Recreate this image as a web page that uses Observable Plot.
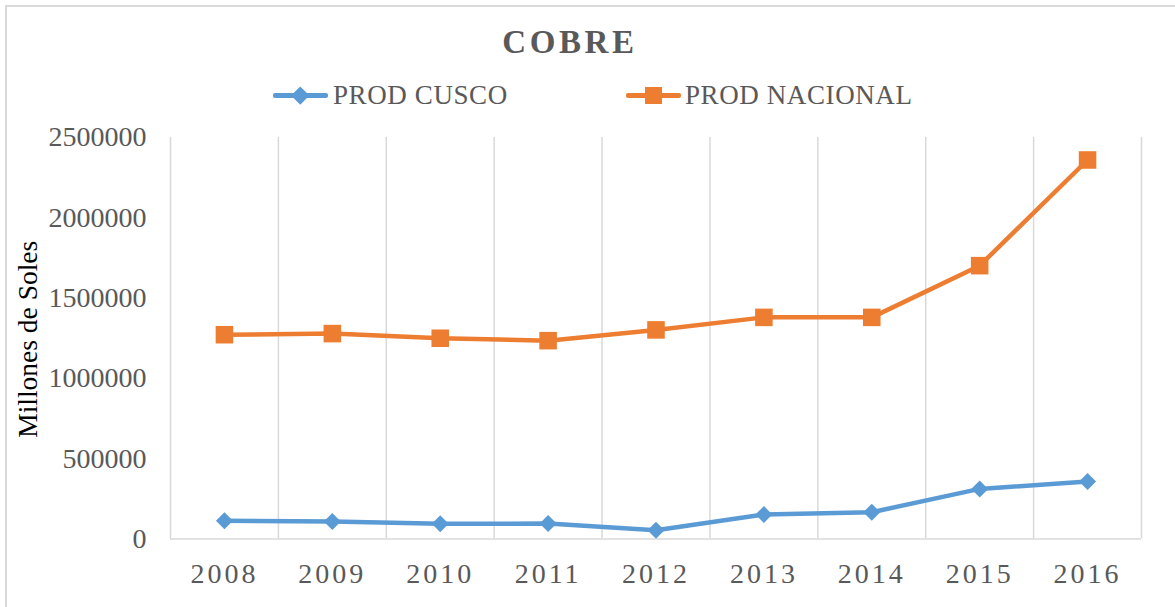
<!DOCTYPE html>
<html>
<head>
<meta charset="utf-8">
<script src="https://cdn.jsdelivr.net/npm/d3@7"></script>
<script src="https://cdn.jsdelivr.net/npm/@observablehq/plot@0.6"></script>
<style>
  body { margin: 0; background: #fff; }
  #wrap { position: relative; width: 1175px; height: 607px; overflow: hidden; background: #fff;
          font-family: "Liberation Serif", "Times New Roman", serif; }
  #frame { position: absolute; left: 5px; top: 5px; width: 1300px; height: 800px;
           border-left: 2px solid #d9d9d9; border-top: 2px solid #d9d9d9; box-sizing: border-box; }
  #chart { position: absolute; left: 0; top: 0; }
  #title { position: absolute; left: 0; top: 26px; width: 1140px; text-align: center;
           font-size: 33px; line-height: 33px; font-weight: bold; letter-spacing: 3.6px; color: #595959; }
  .lg-line { position: absolute; height: 4.5px; }
  .lg-mark { position: absolute; }
  .lg-text { position: absolute; font-size: 27px; line-height: 27px; letter-spacing: 0.6px; color: #595959; white-space: nowrap; }
  svg g[aria-label="x-axis tick label"] text { letter-spacing: 3px; }
</style>
</head>
<body>
<div id="wrap">
  <div id="frame"></div>
  <div id="chart"></div>
  <div id="title"></div>
  <div id="legend"></div>
</div>
<script>
const titleText = "COBRE";
const yAxisTitle = "Millones de Soles";
const seriesNames = ["PROD CUSCO", "PROD NACIONAL"];
const seriesColors = ["#5b9bd5", "#ed7d31"];
const years = [2008, 2009, 2010, 2011, 2012, 2013, 2014, 2015, 2016];
const cuscoValues = [113000, 109000, 95000, 96000, 55000, 152000, 167000, 312000, 358000];
const nacionalValues = [1272000, 1279000, 1250000, 1235000, 1302000, 1380000, 1380000, 1702000, 2360000];
const yTicks = [0, 500000, 1000000, 1500000, 2000000, 2500000];

const cusco = years.map((year, i) => ({year, value: cuscoValues[i]}));
const nacional = years.map((year, i) => ({year, value: nacionalValues[i]}));
const gridX = years.map(y => y - 0.5).concat([years[years.length - 1] + 0.5]);

document.getElementById("title").textContent = titleText;

// Legend (HTML)
const legend = document.getElementById("legend");
const legendItems = [
  {name: seriesNames[0], color: seriesColors[0], lineLeft: 273, textLeft: 333, shape: "diamond"},
  {name: seriesNames[1], color: seriesColors[1], lineLeft: 626, textLeft: 685, shape: "square"}
];
for (const it of legendItems) {
  const line = document.createElement("div");
  line.className = "lg-line";
  Object.assign(line.style, {left: it.lineLeft + "px", top: (95.7 - 2.25) + "px", width: "55px", background: it.color, borderRadius: "2px"});
  legend.appendChild(line);
  const mark = document.createElement("div");
  mark.className = "lg-mark";
  const cx = it.lineLeft + 27.5, cy = 95.7;
  if (it.shape === "diamond") {
    const s = 12.5;
    Object.assign(mark.style, {left: (cx - s / 2) + "px", top: (cy - s / 2) + "px", width: s + "px", height: s + "px",
      background: it.color, transform: "rotate(45deg)"});
  } else {
    const s = 17;
    Object.assign(mark.style, {left: (cx - s / 2) + "px", top: (cy - s / 2) + "px", width: s + "px", height: s + "px",
      background: it.color});
  }
  legend.appendChild(mark);
  const t = document.createElement("div");
  t.className = "lg-text";
  t.textContent = it.name;
  Object.assign(t.style, {left: it.textLeft + "px", top: "81.5px"});
  legend.appendChild(t);
}

const chart = Plot.plot({
  width: 1175,
  height: 607,
  marginTop: 137,
  marginBottom: 68.5,
  marginLeft: 170,
  marginRight: 34,
  style: {fontFamily: '"Liberation Serif", "Times New Roman", serif', fontSize: "28px", color: "#595959", background: "transparent", overflow: "visible"},
  x: {domain: [years[0] - 0.5, years[years.length - 1] + 0.5], label: null},
  y: {domain: [yTicks[0], yTicks[yTicks.length - 1]], label: null},
  marks: [
    Plot.ruleX(gridX, {stroke: "#d9d9d9", strokeWidth: 1.5}),
    Plot.ruleY([0], {stroke: "#d9d9d9", strokeWidth: 1.5}),
    Plot.axisY({ticks: yTicks, tickSize: 0, tickPadding: 24, tickFormat: d => String(d), label: null}),
    Plot.axisX({ticks: years, tickSize: 0, tickPadding: 24, tickFormat: d => String(d), label: null}),
    Plot.line(cusco, {x: "year", y: "value", stroke: seriesColors[0], strokeWidth: 4.5, strokeLinejoin: "round", strokeLinecap: "round"}),
    Plot.line(nacional, {x: "year", y: "value", stroke: seriesColors[1], strokeWidth: 4.5, strokeLinejoin: "round", strokeLinecap: "round"}),
    Plot.dot(cusco, {x: "year", y: "value", symbol: "diamond2", r: 7.65, fill: seriesColors[0], stroke: "none"}),
    Plot.dot(nacional, {x: "year", y: "value", symbol: "square", r: 9.9, fill: seriesColors[1], stroke: "none"}),
    Plot.text([yAxisTitle], {frameAnchor: "left", text: d => d, rotate: -90, dx: -142.6, dy: 1, textAnchor: "middle", lineAnchor: "middle", fill: "#000", fontSize: 27.5})
  ]
});
document.getElementById("chart").appendChild(chart);
</script>
</body>
</html>
